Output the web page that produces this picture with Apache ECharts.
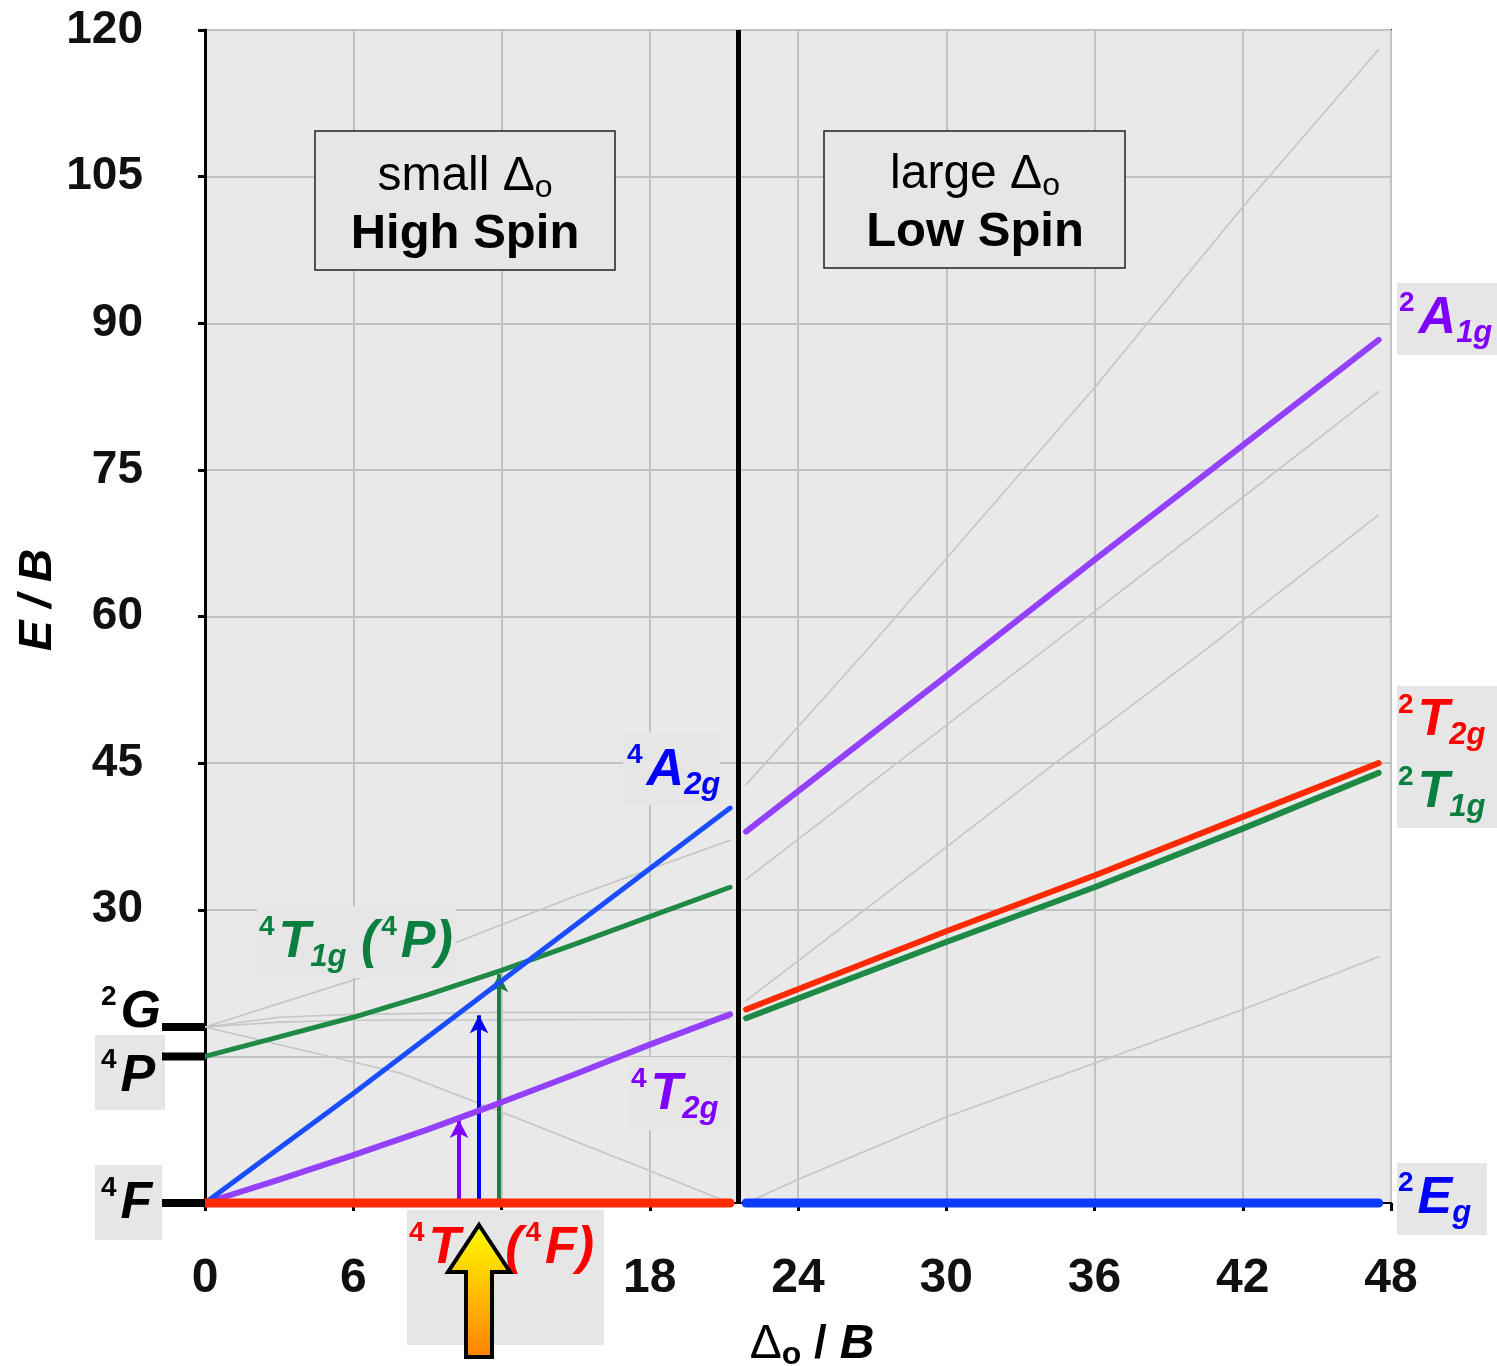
<!DOCTYPE html>
<html>
<head>
<meta charset="utf-8">
<title>Tanabe-Sugano d7</title>
<script src="https://cdn.jsdelivr.net/npm/echarts@6/dist/echarts.min.js"></script>
<style>
  html, body { margin: 0; padding: 0; background: #fff; }
  #chart { width: 1497px; height: 1366px; }
</style>
</head>
<body>
<div id="chart"></div>
<script>
  const FONT = '"Liberation Sans", Arial, Helvetica, sans-serif';

  // axes
  const xMin = 0, xMax = 48, xStep = 6;
  const yMin = 0, yMax = 120, yStep = 15;
  const hiddenYLabels = [0, 15];
  const hiddenXLabels = [12];
  const crossover = 21.6;

  // high spin states  [Δo/B, E/B]
  const hs4T1gF = [[0, 0], [21.25, 0]];
  const hs4T2g = [[0, 0], [3, 2.4], [6, 4.9], [9, 7.5], [12, 10.3], [15, 13.2], [18, 16.2], [21.25, 19.3]];
  const hs4A2g = [[0, 0], [6, 11.2], [12, 22.7], [18, 34.2], [21.25, 40.4]];
  const hs4T1gP = [[0, 15], [3, 17], [6, 19], [9, 21.3], [12, 23.8], [15, 26.5], [18, 29.3], [21.25, 32.3]];

  // low spin states
  const ls2Eg = [[21.9, 0], [47.5, 0]];
  const ls2T1g = [[21.9, 18.9], [30, 26.7], [36, 32.3], [42, 38.3], [47.5, 44.0]];
  const ls2T2g = [[21.9, 19.8], [30, 27.8], [36, 33.5], [42, 39.5], [47.5, 45.0]];
  const ls2A1g = [[21.9, 38.0], [30, 53.9], [36, 65.8], [42, 77.5], [47.5, 88.3]];

  // other (grey) states
  const greyLeft = [
    [[0, 18], [6, 22.8], [10.2, 26.7], [15, 31.4], [21.25, 37.1]],
    [[0, 18], [3, 19], [6, 19.3], [12, 19.5], [21.25, 19.5]],
    [[0, 18], [3, 18.5], [6, 18.7], [21.25, 18.8]],
    [[0, 18], [4, 15.6], [7.9, 13.3], [12, 9.3], [18, 3.3], [21.25, 0]]
  ];
  const greyRight = [
    [[21.9, 42.8], [26.8, 56.6], [36, 83.4], [42, 101.9], [47.5, 118]],
    [[21.9, 33.1], [28, 45], [34, 56.6], [42, 72.2], [47.5, 83]],
    [[21.9, 20.7], [28.1, 32.7], [34, 44.2], [40.5, 56.6], [47.5, 70.4]],
    [[21.9, 0], [24, 2.4], [30, 8.8], [36, 14.3], [42, 19.8], [47.5, 25.2]]
  ];

  // spin-allowed transitions
  const transX = [10.28, 11.09, 11.9];
  const transTop = [8.5, 19.2, 23.4];
  const transColors = ['#7f00ff', '#0000ff', '#1a7f40'];

  // free ion terms on the left
  const terms = [{ name: '2G', e: 18 }, { name: '4P', e: 15 }, { name: '4F', e: 0 }];

  const chart = echarts.init(document.getElementById('chart'), null, { renderer: 'canvas' });

  function stateLine(data, color, width, z) {
    return {
      type: 'line', data, showSymbol: false, symbol: 'none', clip: false,
      lineStyle: { color, width, cap: 'round' }, z, silent: true, animation: false
    };
  }

  const series = [];
  greyLeft.concat(greyRight).forEach(d => series.push(stateLine(d, '#c6c6c6', 1.6, 2)));
  series.push(stateLine(hs4T2g, '#9440ff', 6, 5));
  series.push(stateLine(hs4T1gP, '#1e8a46', 5, 5));
  series.push(stateLine(hs4A2g, '#1a4dff', 5, 6));
  series.push(stateLine(ls2A1g, '#9440ff', 6, 5));
  series.push(stateLine(ls2T1g, '#1e8a46', 6, 5));
  series.push(stateLine(ls2T2g, '#ff2a00', 6, 6));
  series.push(stateLine(ls2Eg, '#0a3cff', 9, 6));
  const ground = stateLine(hs4T1gF, '#ff2a00', 9, 6);
  ground.markLine = {
    silent: true, animation: false, symbol: ['none', 'arrow'], symbolSize: [14, 18],
    label: { show: false },
    data: transX.map((x, i) => [
      { coord: [x, 0], lineStyle: { color: transColors[i], width: 4, type: 'solid' }, itemStyle: { color: transColors[i] } },
      { coord: [x, transTop[i]] }
    ])
  };
  series.push(ground);
  series.push({
    type: 'line', data: [], z: 8,
    markLine: {
      silent: true, animation: false, symbol: 'none', label: { show: false },
      lineStyle: { color: '#000', width: 5, type: 'solid' },
      data: [{ xAxis: crossover }]
    }
  });

  chart.setOption({
    animation: false,
    backgroundColor: '#fff',
    grid: {
      left: 205, right: 106, top: 30, bottom: 163,
      show: true, backgroundColor: '#e9e9e9', borderColor: '#222', borderWidth: 2
    },
    xAxis: {
      type: 'value', min: xMin, max: xMax, interval: xStep,
      axisLine: { show: true, onZero: false, lineStyle: { color: '#000', width: 2 } },
      axisTick: { show: true, length: 8, lineStyle: { color: '#000', width: 3 } },
      splitLine: { show: true, lineStyle: { color: '#c2c2c2', width: 2 } },
      axisLabel: {
        margin: 52, fontSize: 48, fontWeight: 'bold', color: '#111', fontFamily: FONT,
        formatter: v => hiddenXLabels.includes(v) ? '' : String(v)
      }
    },
    yAxis: {
      type: 'value', min: yMin, max: yMax, interval: yStep,
      axisLine: { show: true, lineStyle: { color: '#000', width: 3 } },
      axisTick: { show: true, length: 7, lineStyle: { color: '#000', width: 3 } },
      splitLine: { show: true, lineStyle: { color: '#c2c2c2', width: 2 } },
      axisLabel: {
        margin: 62, fontSize: 46, fontWeight: 'bold', color: '#111', fontFamily: FONT,
        padding: [6, 0, 0, 0],
        formatter: v => hiddenYLabels.includes(v) ? '' : String(v)
      }
    },
    series
  });

  // ---- annotations ----
  function richText(x, y, text, color, size) {
    size = size || 52;
    return {
      type: 'text', x, y, z: 120, silent: true,
      style: {
        text, fill: color, align: 'left', verticalAlign: 'middle',
        fontFamily: FONT, fontSize: size, fontWeight: 'bold', fontStyle: 'italic',
        rich: {
          sup: { fontSize: Math.round(size * 0.54), fontWeight: 'bold', fontStyle: 'normal', fontFamily: FONT,
                 fill: color, verticalAlign: 'top', lineHeight: Math.round(size * 0.76), padding: [0, 4, 0, 3] },
          m: { fontSize: size, fontWeight: 'bold', fontStyle: 'italic', fontFamily: FONT, fill: color,
               lineHeight: Math.round(size * 1.16) },
          sub: { fontSize: Math.round(size * 0.6), fontWeight: 'bold', fontStyle: 'italic', fontFamily: FONT,
                 fill: color, verticalAlign: 'bottom', lineHeight: Math.round(size * 0.6) }
        }
      }
    };
  }
  function box(x1, y1, x2, y2, stroke) {
    return {
      type: 'rect', z: 110, silent: true,
      shape: { x: x1, y: y1, width: x2 - x1, height: y2 - y1 },
      style: { fill: '#e6e6e6', stroke: stroke || null, lineWidth: stroke ? 1.5 : 0 }
    };
  }
  function plain(x, y, text, size, weight) {
    return {
      type: 'text', x, y, z: 120, silent: true,
      style: {
        text, fill: '#000', align: 'center', verticalAlign: 'middle',
        fontFamily: FONT, fontSize: size, fontWeight: weight,
        rich: {
          r: { fontSize: size, fontWeight: weight, fontFamily: FONT, fill: '#000', lineHeight: 54 },
          s: { fontSize: 32, fontFamily: FONT, fill: '#000', verticalAlign: 'bottom', lineHeight: 30 }
        }
      }
    };
  }

  const px = (x, y) => chart.convertToPixel({ gridIndex: 0 }, [x, y]);
  const g = [];

  // regime boxes
  g.push(box(315, 131, 615, 270, '#222'));
  g.push(plain(465, 177, '{r|small Δ}{s|o}', 48, 'normal'));
  g.push(plain(465, 234, 'High Spin', 49, 'bold'));
  g.push(box(824, 131, 1125, 268, '#222'));
  g.push(plain(975, 175, '{r|large Δ}{s|o}', 48, 'normal'));
  g.push(plain(975, 232, 'Low Spin', 49, 'bold'));

  // state labels
  g.push(box(623, 732, 720, 805));
  g.push(richText(624, 771, '{sup|4}{m|A}{sub|2g}', '#0000ff'));
  g.push(box(257, 906, 456, 978));
  g.push(richText(256, 943, '{sup|4}{m|T}{sub|1g}{m| (}{sup|4}{m|P)}', '#0a7f3f'));
  g.push(box(628, 1057, 732, 1130));
  g.push(richText(628, 1095, '{sup|4}{m|T}{sub|2g}', '#8000ff'));

  g.push(box(1397, 283, 1497, 355));
  g.push(richText(1396, 319, '{sup|2}{m|A}{sub|1g}', '#8000ff'));
  g.push(box(1397, 686, 1497, 828));
  g.push(richText(1395, 721, '{sup|2}{m|T}{sub|2g}', '#ff0000'));
  g.push(richText(1395, 793, '{sup|2}{m|T}{sub|1g}', '#0a7f3f'));
  g.push(box(1397, 1163, 1487, 1235));
  g.push(richText(1395, 1199, '{sup|2}{m|E}{sub|g}', '#0000ff'));

  // free-ion terms with level marks
  g.push(box(95, 1035, 165, 1110));
  g.push(box(95, 1165, 162, 1240));
  terms.forEach(t => {
    const p = px(0, t.e);
    g.push({
      type: 'rect', z: 115, silent: true,
      shape: { x: 162, y: p[1] - 4, width: p[0] - 162, height: 8 },
      style: { fill: '#000' }
    });
    const ty = t.name === '2G' ? p[1] - 14 : (t.name === '4P' ? p[1] + 20 : p[1] + 1);
    g.push(richText(98, ty, '{sup|' + t.name[0] + '}{m|' + t.name[1] + '}', '#000'));
  });

  // ground state label + big excitation arrow
  g.push(box(407, 1210, 604, 1345));
  g.push(richText(406, 1249, '{sup|4}{m|T}{sub|1g }{m|(}{sup|4}{m|F)}', '#ff0000'));
  const ax = px(transX[1], 0)[0];
  g.push({
    type: 'polygon', z: 130, silent: true,
    shape: { points: [[ax, 1225], [ax + 31, 1272], [ax + 13, 1272], [ax + 13, 1357], [ax - 13, 1357], [ax - 13, 1272], [ax - 31, 1272]] },
    style: {
      fill: new echarts.graphic.LinearGradient(0, 0, 0, 1, [
        { offset: 0, color: '#ffff00' }, { offset: 1, color: '#ff7f00' }
      ]),
      stroke: '#000', lineWidth: 4, lineJoin: 'miter'
    }
  });

  // axis titles
  g.push({
    type: 'text', x: 38, y: 600, rotation: Math.PI / 2, z: 120, silent: true,
    style: { text: 'E / B', fill: '#000', align: 'center', verticalAlign: 'middle',
             fontFamily: FONT, fontSize: 46, fontWeight: 'bold', fontStyle: 'italic' }
  });
  g.push({
    type: 'text', x: 812, y: 1345, z: 120, silent: true,
    style: {
      text: '{d|Δ}{o|o}{n| / }{b|B}', fill: '#000', align: 'center', verticalAlign: 'middle',
      fontFamily: FONT, fontSize: 46,
      rich: {
        d: { fontSize: 48, fontFamily: FONT, fill: '#000', lineHeight: 52 },
        o: { fontSize: 32, fontWeight: 'bold', fontFamily: FONT, fill: '#000', verticalAlign: 'bottom', lineHeight: 30 },
        n: { fontSize: 46, fontWeight: 'bold', fontFamily: FONT, fill: '#000', lineHeight: 52 },
        b: { fontSize: 48, fontWeight: 'bold', fontStyle: 'italic', fontFamily: FONT, fill: '#000', lineHeight: 52 }
      }
    }
  });

  chart.setOption({ graphic: g });
</script>
</body>
</html>
